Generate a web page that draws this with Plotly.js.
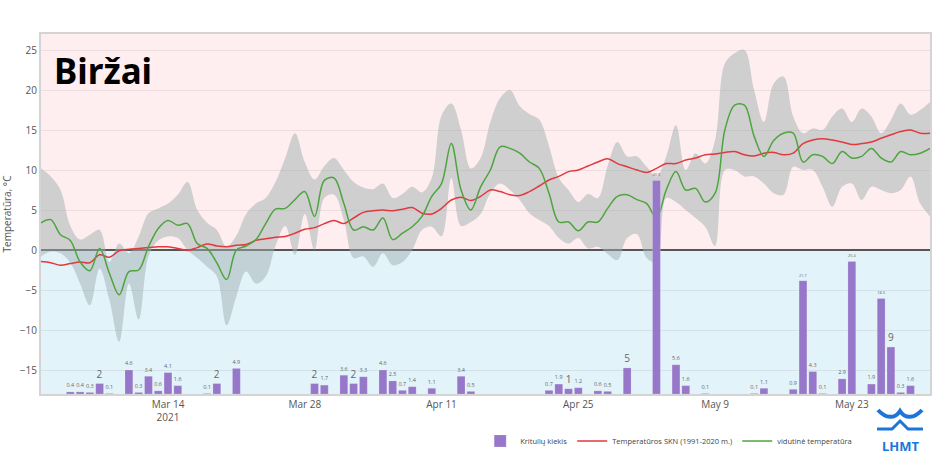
<!DOCTYPE html>
<html>
<head>
<meta charset="utf-8">
<script src="https://cdn.plot.ly/plotly-3.0.1.min.js"></script>
<style>html,body{margin:0;padding:0;background:#fff;}#chart{width:940px;height:456px;}</style>
</head>
<body>
<div id="chart"></div>
<script>
// ---- data (daily, starting 2021-03-01) ----
const startDate = '2021-03-01';
const meanTemp = [3.4,3.8,1.9,1.2,-1.5,-2.6,0.2,-2.9,-5.6,-2.7,-2.5,0.4,2.7,3.7,3.1,3.3,0.8,0.2,-1.6,-3.7,
  0.0,0.5,1.3,3.3,5.1,5.2,6.3,7.3,4.2,8.7,9.0,5.8,2.5,2.9,2.5,4.0,1.3,2.1,2.9,4.2,
  6.7,8.3,13.3,7.5,5.0,7.9,10.0,12.9,12.7,12.1,11.0,10.2,7.1,3.5,3.5,2.4,3.5,3.5,5.2,6.7,
  6.9,6.3,5.8,4.0,7.5,9.8,7.5,7.7,6.0,7.1,15.0,18.1,18.1,14.2,11.7,13.7,14.6,14.6,11.0,11.9,
  11.7,10.8,12.3,11.5,11.7,12.7,11.5,11.0,12.3,11.9,12.1,12.7];
const normalTemp = [-1.45,-1.6,-1.9,-1.7,-1.5,-1.6,-0.6,-0.9,-0.1,0.1,0.2,0.3,0.4,0.4,0.2,-0.05,0.3,0.75,0.5,0.4,
  0.6,0.7,1.2,1.4,1.6,1.7,2.1,2.6,2.8,3.3,3.7,3.3,4.0,4.7,4.9,5.0,4.9,5.1,5.3,4.6,
  4.5,5.2,6.25,6.6,6.2,6.7,7.5,7.3,6.9,6.8,7.3,8.0,8.75,9.2,9.8,10.0,10.5,11.0,11.4,10.8,
  10.4,10.0,9.7,10.2,10.8,10.8,11.25,11.5,11.9,12.0,12.2,12.3,11.9,11.75,12.1,12.2,11.9,12.1,13.3,13.75,
  13.9,13.75,13.5,13.2,13.3,13.5,13.96,14.4,14.8,15.0,14.6,14.6];
const rangeMax = [10.2,9.2,7.5,3.0,1.3,1.9,2.5,-1.5,0.8,-0.4,1.7,4.6,5.2,5.8,6.9,8.5,5.0,3.4,2.5,0.4,
  1.8,4.5,5.8,6.5,8.5,11.5,14.6,11.0,8.8,10.5,11.5,10.0,8.5,7.8,7.6,8.3,6.5,7.0,7.9,7.2,
  9.0,16.8,18.3,15.0,10.2,11.5,16.0,19.0,20.0,18.0,17.0,16.3,13.0,9.0,7.5,6.0,7.0,6.5,10.5,13.5,
  11.7,11.7,10.4,9.2,11.7,15.6,10.0,12.1,10.8,13.75,23.3,24.6,25.0,20.0,16.0,20.8,21.7,16.7,14.6,15.2,
  15.0,16.7,17.7,16.0,17.7,16.7,14.6,16.25,18.3,16.9,17.5,18.5];
const rangeMin = [-0.8,-0.2,-0.4,-1.6,-4.2,-6.9,-2.3,-6.2,-11.5,-4.2,-8.7,-0.8,1.2,1.7,1.5,0.0,-1.0,-2.1,-3.3,-9.4,
  -5.8,-2.7,-4.2,-3.3,0.5,3.0,-0.6,4.5,0.0,6.5,6.9,3.75,-1.0,-0.8,-2.1,-0.4,-1.9,-1.5,0.0,2.5,
  2.9,1.7,9.0,3.0,3.5,4.5,7.1,8.3,7.5,6.25,4.6,3.75,3.0,1.5,0.8,1.5,0.2,0.4,-0.5,-1.25,
  1.5,2.0,-1.0,-1.5,6.5,6.0,5.0,4.0,2.9,0.5,10.0,10.0,9.2,9.2,8.3,7.1,6.9,10.4,10.0,10.0,
  7.9,5.4,7.9,8.3,6.25,7.9,7.5,7.1,7.5,9.2,5.8,4.2];

const precipDates = ['2021-03-04','2021-03-05','2021-03-06','2021-03-07','2021-03-08','2021-03-10','2021-03-11','2021-03-12','2021-03-13','2021-03-14',
  '2021-03-15','2021-03-18','2021-03-19','2021-03-21','2021-03-29','2021-03-30','2021-04-01','2021-04-02','2021-04-03','2021-04-05',
  '2021-04-06','2021-04-07','2021-04-08','2021-04-10','2021-04-13','2021-04-14','2021-04-22','2021-04-23','2021-04-24','2021-04-25',
  '2021-04-27','2021-04-28','2021-04-30','2021-05-03','2021-05-05','2021-05-06','2021-05-08','2021-05-13','2021-05-14','2021-05-17',
  '2021-05-18','2021-05-19','2021-05-20','2021-05-22','2021-05-23','2021-05-25','2021-05-26','2021-05-27','2021-05-28','2021-05-29'];
const precipValues = [0.4,0.4,0.3,2,0.1,4.6,0.3,3.4,0.6,4.1,
  1.6,0.1,2,4.9,2,1.7,3.6,2,3.3,4.6,
  2.5,0.7,1.4,1.1,3.4,0.5,0.7,1.9,1,1.2,
  0.6,0.5,5,40.9,5.6,1.6,0.1,0.1,1.1,0.9,
  21.7,4.3,0.1,2.9,25.4,1.9,18.3,9,0.3,1.6];

const tickLabels = { tick0: '2021-03-14' };
const seriesNames = ['Kritulių kiekis', 'Temperatūros SKN (1991-2020 m.)', 'vidutinė temperatūra'];

// ---- build ----
const DAY = 86400000;
const t0 = new Date(startDate + 'T00:00:00Z').getTime();
const dates = meanTemp.map((_, i) => new Date(t0 + i * DAY).toISOString().slice(0, 10));

// pixel -> paper helpers (for decorative logo / title placement only)
const L = 41, T = 34, W = 889, H = 360;
const px = x => ((x - L) / W).toFixed(4);
const py = y => ((T + H - y) / H).toFixed(4);

const traces = [
  {
    type: 'bar', name: seriesNames[0], x: precipDates, y: precipValues, yaxis: 'y2',
    marker: { color: '#9677c9', line: { color: 'rgba(255,255,255,0.35)', width: 0.5 } },
    width: 0.8 * DAY,
    text: precipValues.map(v => String(v)), textposition: 'outside',
    textfont: { size: 10, color: '#666' }, cliponaxis: false, hoverinfo: 'x+y'
  },
  {
    type: 'scatter', mode: 'lines', x: dates, y: rangeMin, showlegend: false,
    line: { width: 0, shape: 'spline', smoothing: 1 }, hoverinfo: 'skip'
  },
  {
    type: 'scatter', mode: 'lines', x: dates, y: rangeMax, showlegend: false,
    fill: 'tonexty', fillcolor: 'rgba(160,175,175,0.5)',
    line: { width: 0, shape: 'spline', smoothing: 1 }, hoverinfo: 'skip'
  },
  {
    type: 'scatter', mode: 'lines', name: seriesNames[1], x: dates, y: normalTemp,
    line: { color: '#e0393e', width: 1.5, shape: 'spline', smoothing: 1 }
  },
  {
    type: 'scatter', mode: 'lines', name: seriesNames[2], x: dates, y: meanTemp,
    line: { color: '#4ea43f', width: 1.5, shape: 'spline', smoothing: 1 }
  }
];

const logoColor = '#1c76d8';
const layout = {
  width: 940, height: 456,
  margin: { l: L, r: 940 - L - W, t: T, b: 456 - T - H, autoexpand: false },
  paper_bgcolor: '#fff', plot_bgcolor: '#fff',
  font: { family: '"Open Sans", verdana, arial, sans-serif', color: '#444', size: 10 },
  showlegend: true,
  legend: { orientation: 'h', traceorder: 'normal', x: 0.494, xanchor: 'left', y: -0.09, yanchor: 'top',
            font: { size: 7.5, color: '#444' }, bgcolor: 'rgba(0,0,0,0)', itemwidth: 30 },
  bargap: 0.2,
  xaxis: {
    type: 'date', range: ['2021-03-01', '2021-05-31'], automargin: false,
    tick0: tickLabels.tick0, dtick: 14 * DAY,
    showgrid: false, zeroline: false,
    showline: true, mirror: true, linecolor: '#d4d4d4', linewidth: 2,
    ticks: '', tickfont: { size: 10, color: '#555' }
  },
  yaxis: {
    range: [-18, 27], dtick: 5, tick0: 0, automargin: false,
    gridcolor: 'rgba(0,0,0,0.07)', gridwidth: 1,
    zeroline: true, zerolinecolor: '#555', zerolinewidth: 1.5,
    showline: true, mirror: true, linecolor: '#d4d4d4', linewidth: 2,
    ticks: '', tickfont: { size: 10, color: '#555' },
    title: { text: 'Temperatūra, °C', font: { size: 10, color: '#555' }, standoff: 8 }
  },
  yaxis2: { overlaying: 'y', range: [0, 69], visible: false, showgrid: false, zeroline: false },
  shapes: [
    { type: 'rect', xref: 'x', yref: 'y', x0: '2021-02-20', x1: '2021-06-10', y0: 0, y1: 40,
      fillcolor: '#ffeef0', line: { width: 0 }, layer: 'below' },
    { type: 'rect', xref: 'x', yref: 'y', x0: '2021-02-20', x1: '2021-06-10', y0: -40, y1: 0,
      fillcolor: '#e3f3fa', line: { width: 0 }, layer: 'below' },
    // LHMT logo (decorative)
    { type: 'path', xref: 'paper', yref: 'paper',
      path: `M${px(878)},${py(410)} C${px(886)},${py(419)} ${px(895)},${py(419)} ${px(900)},${py(411)} C${px(905)},${py(419)} ${px(914)},${py(419)} ${px(922)},${py(410)}`,
      line: { color: logoColor, width: 4 } },
    { type: 'path', xref: 'paper', yref: 'paper',
      path: `M${px(877)},${py(429)} L${px(892)},${py(429)} L${px(900)},${py(421)} L${px(908)},${py(429)} L${px(923)},${py(429)}`,
      line: { color: logoColor, width: 3 } }
  ],
  annotations: [
    { xref: 'paper', yref: 'paper', x: px(52), y: py(70), xanchor: 'left', yanchor: 'middle',
      text: '<b>Biržai</b>', showarrow: false,
      font: { family: '"Noto Sans", Roboto, sans-serif', size: 35, color: '#000' } },
    { xref: 'paper', yref: 'paper', x: px(900), y: py(446), xanchor: 'center', yanchor: 'middle',
      text: '<b>LHMT</b>', showarrow: false,
      font: { family: '"Noto Sans", Roboto, sans-serif', size: 13, color: logoColor } }
  ]
};

Plotly.newPlot('chart', traces, layout, { displayModeBar: false, staticPlot: true });
</script>
</body>
</html>
